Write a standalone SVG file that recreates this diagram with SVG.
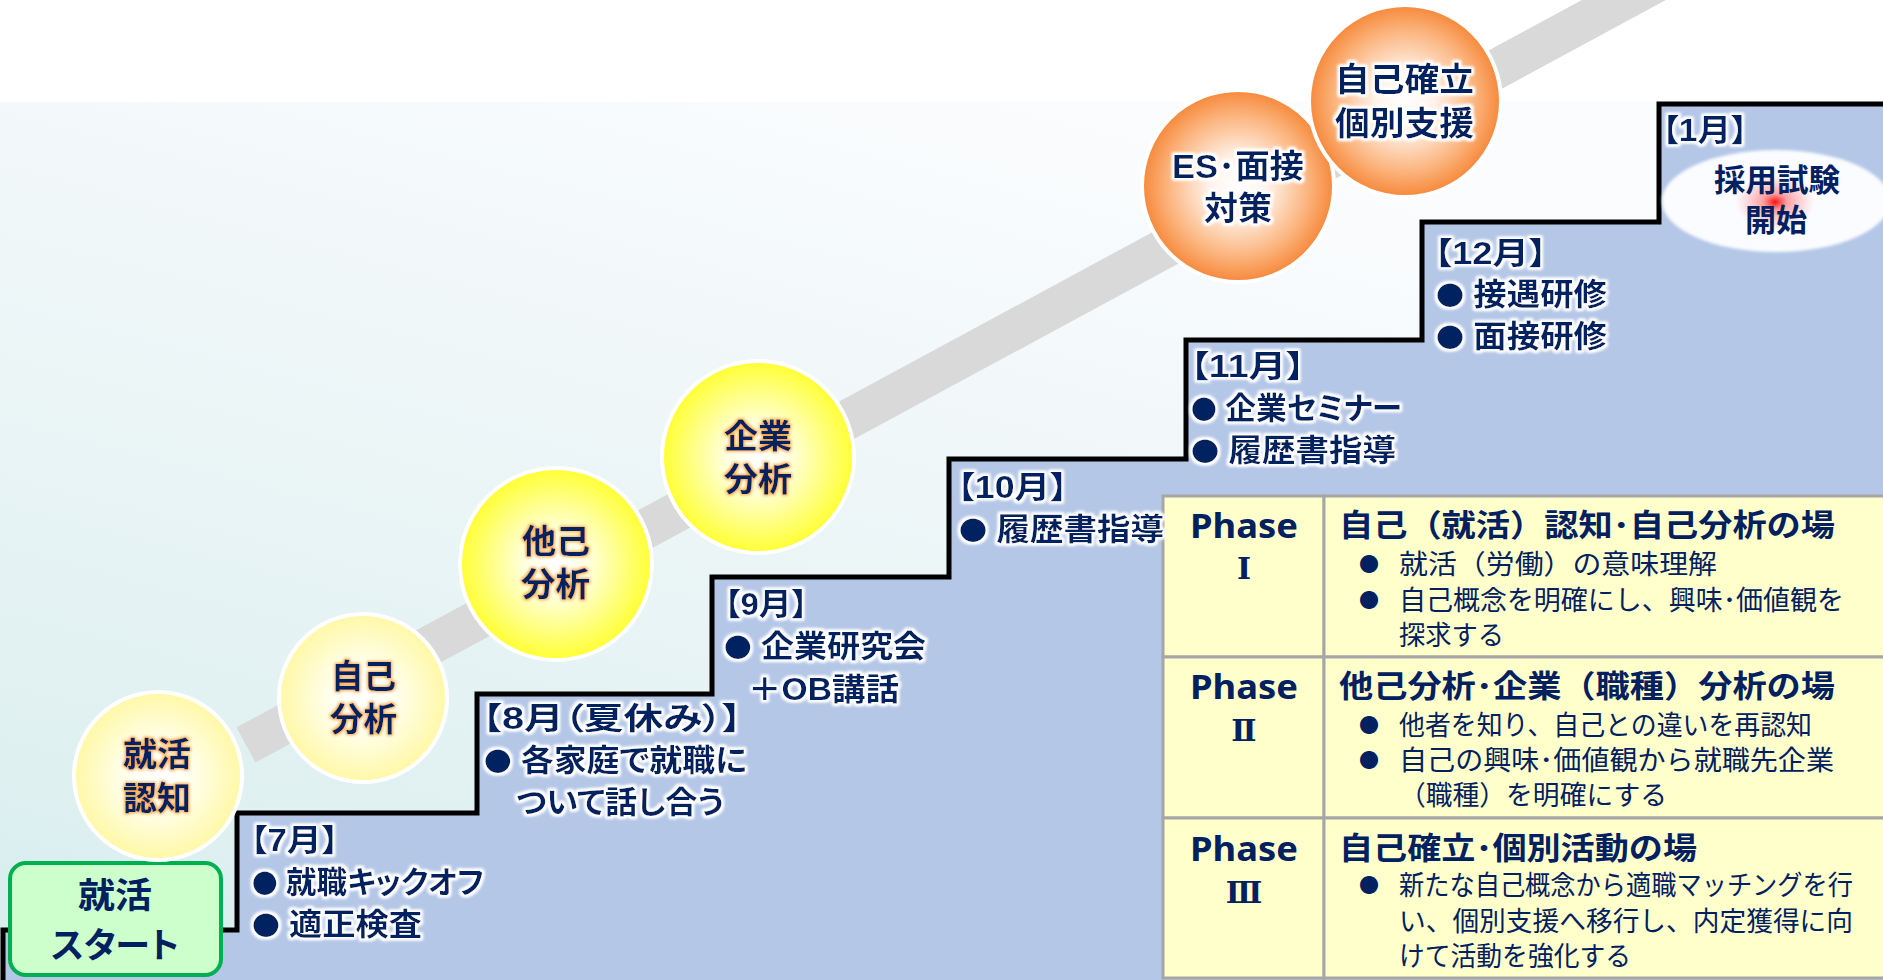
<svg xmlns="http://www.w3.org/2000/svg" width="1883" height="980" viewBox="0 0 1883 980">
<defs>
  <linearGradient id="bg" x1="0.55" y1="0" x2="0" y2="1">
    <stop offset="0" stop-color="#fbfcfe"/>
    <stop offset="1" stop-color="#d8eded"/>
  </linearGradient>
  <radialGradient id="ylPale" cx="0.5" cy="0.5" r="0.5">
    <stop offset="0" stop-color="#ffffff"/>
    <stop offset="0.35" stop-color="#fffff2"/>
    <stop offset="1" stop-color="#fff8a6"/>
  </radialGradient>
  <radialGradient id="ylBright" cx="0.5" cy="0.5" r="0.5">
    <stop offset="0" stop-color="#ffffff"/>
    <stop offset="0.3" stop-color="#ffffe6"/>
    <stop offset="1" stop-color="#ffff33"/>
  </radialGradient>
  <radialGradient id="orng" cx="0.5" cy="0.5" r="0.5">
    <stop offset="0" stop-color="#ffffff"/>
    <stop offset="0.3" stop-color="#fff3ea"/>
    <stop offset="0.75" stop-color="#fbb27a"/>
    <stop offset="1" stop-color="#f6883a"/>
  </radialGradient>
  <radialGradient id="redGlow" cx="0.5" cy="0.5" r="0.5">
    <stop offset="0" stop-color="#ff0000" stop-opacity="0.95"/>
    <stop offset="0.3" stop-color="#ff3030" stop-opacity="0.45"/>
    <stop offset="1" stop-color="#ff6060" stop-opacity="0"/>
  </radialGradient>
  <filter id="glowW" x="-20%" y="-40%" width="140%" height="180%">
    <feMorphology in="SourceAlpha" operator="dilate" radius="1.5" result="d"/>
    <feGaussianBlur in="d" stdDeviation="1.8" result="b"/>
    <feFlood flood-color="#ffffff"/>
    <feComposite in2="b" operator="in" result="g"/>
    <feMerge><feMergeNode in="g"/><feMergeNode in="g"/><feMergeNode in="SourceGraphic"/></feMerge>
  </filter>
  <filter id="glowO" x="-20%" y="-40%" width="140%" height="180%">
    <feMorphology in="SourceAlpha" operator="dilate" radius="1.2" result="d"/>
    <feGaussianBlur in="d" stdDeviation="1.8" result="b"/>
    <feFlood flood-color="#f7a648"/>
    <feComposite in2="b" operator="in" result="g"/>
    <feMerge><feMergeNode in="g"/><feMergeNode in="SourceGraphic"/></feMerge>
  </filter>
  <filter id="soft" x="-5%" y="-10%" width="110%" height="120%">
    <feGaussianBlur stdDeviation="1.5"/>
  </filter>
</defs>
<style>
  .t { font-family: "Liberation Sans", "Noto Sans CJK JP", sans-serif; font-weight: 700; fill: #002060; font-feature-settings: "palt"; }
  .m { font-size: 31px; }
  .b { font-size: 33px; }
  .hd { font-size: 31px; font-feature-settings: normal; }
  .bd { font-size: 27px; font-weight: 400; font-feature-settings: normal; }
  .dot { font-family: "Noto Sans CJK JP", sans-serif; font-size: 26px; }
  .bl { font-family: "Noto Sans CJK JP", sans-serif; font-size: 20px; font-weight: 400; fill: #002060; }
  .ph { font-family: "Noto Sans", "Liberation Sans", sans-serif; font-size: 34px; font-weight: 700; fill: #002060; }
  .rn { font-family: "DejaVu Serif", "Noto Sans CJK JP", serif; font-size: 30px; font-weight: 700; fill: #002060; }
  .cell { fill: #ffffcc; stroke: #a6a6a6; stroke-width: 3; }
  .bub { stroke: #ffffff; stroke-width: 4; }
</style>

<g id="background">
  <rect x="0" y="0" width="1883" height="980" fill="#ffffff"/>
  <rect x="0" y="102" width="1883" height="878" fill="url(#bg)"/>
</g>

<g id="connectors">
  <line x1="246" y1="745" x2="1720" y2="-52" stroke="#d9d9d9" stroke-width="40" stroke-linecap="butt"/>
</g>

<g id="staircase">
  <path d="M3,980 V930 H237 V813 H477 V694 H712 V577 H949 V459 H1186 V340 H1422 V222 H1659 V104 H1883 V980 Z" fill="#b4c7e7"/>
  <path d="M3,980 V930 H237 V813 H477 V694 H712 V577 H949 V459 H1186 V340 H1422 V222 H1659 V104 H1883" fill="none" stroke="#000000" stroke-width="5" stroke-linejoin="miter"/>
</g>

<g id="phase-table">
  <rect class="cell" x="1163" y="496" width="161" height="161"/>
  <rect class="cell" x="1324" y="496" width="562" height="161"/>
  <rect class="cell" x="1163" y="657" width="161" height="161"/>
  <rect class="cell" x="1324" y="657" width="562" height="161"/>
  <rect class="cell" x="1163" y="818" width="161" height="160"/>
  <rect class="cell" x="1324" y="818" width="562" height="160"/>
  <g id="phase1">
    <text class="ph" x="1190" y="538" textLength="108" lengthAdjust="spacingAndGlyphs">Phase</text>
    <text class="rn" x="1244" y="579" text-anchor="middle">Ⅰ</text>
    <text class="t hd" x="1339" y="536" textLength="496" lengthAdjust="spacingAndGlyphs">自己（就活）認知･自己分析の場</text>
    <text class="bl" x="1359" y="572">●</text>
    <text class="t bd" x="1399" y="574" textLength="318" lengthAdjust="spacingAndGlyphs">就活（労働）の意味理解</text>
    <text class="bl" x="1359" y="608">●</text>
    <text class="t bd" x="1399" y="610" textLength="445" lengthAdjust="spacingAndGlyphs">自己概念を明確にし、興味･価値観を</text>
    <text class="t bd" x="1399" y="645" textLength="105" lengthAdjust="spacingAndGlyphs">探求する</text>
  </g>
  <g id="phase2">
    <text class="ph" x="1190" y="699" textLength="108" lengthAdjust="spacingAndGlyphs">Phase</text>
    <text class="rn" x="1244" y="741" text-anchor="middle">Ⅱ</text>
    <text class="t hd" x="1339" y="697" textLength="496" lengthAdjust="spacingAndGlyphs">他己分析･企業（職種）分析の場</text>
    <text class="bl" x="1359" y="733">●</text>
    <text class="t bd" x="1399" y="735" textLength="413" lengthAdjust="spacingAndGlyphs">他者を知り、自己との違いを再認知</text>
    <text class="bl" x="1359" y="768">●</text>
    <text class="t bd" x="1399" y="770" textLength="435" lengthAdjust="spacingAndGlyphs">自己の興味･価値観から就職先企業</text>
    <text class="t bd" x="1399" y="805" textLength="268" lengthAdjust="spacingAndGlyphs">（職種）を明確にする</text>
  </g>
  <g id="phase3">
    <text class="ph" x="1190" y="861" textLength="108" lengthAdjust="spacingAndGlyphs">Phase</text>
    <text class="rn" x="1244" y="903" text-anchor="middle">Ⅲ</text>
    <text class="t hd" x="1339" y="859" textLength="358" lengthAdjust="spacingAndGlyphs">自己確立･個別活動の場</text>
    <text class="bl" x="1359" y="893">●</text>
    <text class="t bd" x="1399" y="895" textLength="454" lengthAdjust="spacingAndGlyphs">新たな自己概念から適職マッチングを行</text>
    <text class="t bd" x="1399" y="931" textLength="454" lengthAdjust="spacingAndGlyphs">い、個別支援へ移行し、内定獲得に向</text>
    <text class="t bd" x="1399" y="966" textLength="232" lengthAdjust="spacingAndGlyphs">けて活動を強化する</text>
  </g>
</g>

<g id="start">
  <rect x="10" y="863" width="211" height="112" rx="16" ry="16" fill="#ccffcc" stroke="#00b050" stroke-width="4"/>
  <text class="t" font-size="35" x="78" y="908" textLength="74" lengthAdjust="spacingAndGlyphs">就活</text>
  <text class="t" font-size="35" x="51" y="958" textLength="128" lengthAdjust="spacingAndGlyphs">スタート</text>
</g>

<g id="bubble-shukatsu-ninchi">
  <circle class="bub" cx="158" cy="776" r="84" fill="url(#ylPale)"/>
  <g filter="url(#glowO)">
    <text class="t b" x="123" y="766" textLength="68" lengthAdjust="spacingAndGlyphs">就活</text>
    <text class="t b" x="123" y="810" textLength="68" lengthAdjust="spacingAndGlyphs">認知</text>
  </g>
</g>
<g id="bubble-jiko-bunseki">
  <circle class="bub" cx="363" cy="698" r="84" fill="url(#ylPale)"/>
  <g filter="url(#glowO)">
    <text class="t b" x="331" y="688" textLength="65" lengthAdjust="spacingAndGlyphs">自己</text>
    <text class="t b" x="330" y="731" textLength="67" lengthAdjust="spacingAndGlyphs">分析</text>
  </g>
</g>
<g id="bubble-tako-bunseki">
  <circle class="bub" cx="556" cy="564" r="96" fill="url(#ylBright)"/>
  <g filter="url(#glowO)">
    <text class="t b" x="522" y="553" textLength="68" lengthAdjust="spacingAndGlyphs">他己</text>
    <text class="t b" x="521" y="596" textLength="69" lengthAdjust="spacingAndGlyphs">分析</text>
  </g>
</g>
<g id="bubble-kigyo-bunseki">
  <circle class="bub" cx="758" cy="457" r="96" fill="url(#ylBright)"/>
  <g filter="url(#glowO)">
    <text class="t b" x="724" y="448" textLength="68" lengthAdjust="spacingAndGlyphs">企業</text>
    <text class="t b" x="724" y="491" textLength="68" lengthAdjust="spacingAndGlyphs">分析</text>
  </g>
</g>
<g id="bubble-es-mensetsu">
  <circle class="bub" cx="1238" cy="186" r="96" fill="url(#orng)"/>
  <g filter="url(#glowW)">
    <text class="t b" x="1172" y="178" textLength="132" lengthAdjust="spacingAndGlyphs">ES･面接</text>
    <text class="t b" x="1204" y="220" textLength="68" lengthAdjust="spacingAndGlyphs">対策</text>
  </g>
</g>
<g id="bubble-jiko-kakuritsu">
  <circle class="bub" cx="1405" cy="101" r="96" fill="url(#orng)"/>
  <g filter="url(#glowW)">
    <text class="t b" x="1335" y="91" textLength="139" lengthAdjust="spacingAndGlyphs">自己確立</text>
    <text class="t b" x="1335" y="135" textLength="139" lengthAdjust="spacingAndGlyphs">個別支援</text>
  </g>
</g>

<g id="step-jul" filter="url(#glowW)">
  <text class="t m" x="250" y="851" textLength="89" lengthAdjust="spacingAndGlyphs">【7月】</text>
  <text class="t m" x="252" y="893" textLength="232" lengthAdjust="spacingAndGlyphs"><tspan class="dot">●</tspan> 就職キックオフ</text>
  <text class="t m" x="252" y="935" textLength="170" lengthAdjust="spacingAndGlyphs"><tspan class="dot">●</tspan> 適正検査</text>
</g>
<g id="step-aug" filter="url(#glowW)">
  <text class="t m" x="482" y="729" textLength="260" lengthAdjust="spacingAndGlyphs">【8月（夏休み）】</text>
  <text class="t m" x="484" y="771" textLength="263" lengthAdjust="spacingAndGlyphs"><tspan class="dot">●</tspan> 各家庭で就職に</text>
  <text class="t m" x="516" y="813" textLength="208" lengthAdjust="spacingAndGlyphs">ついて話し合う</text>
</g>
<g id="step-sep" filter="url(#glowW)">
  <text class="t m" x="724" y="615" textLength="84" lengthAdjust="spacingAndGlyphs">【9月】</text>
  <text class="t m" x="724" y="657" textLength="202" lengthAdjust="spacingAndGlyphs"><tspan class="dot">●</tspan> 企業研究会</text>
  <text class="t m" x="748" y="700" textLength="151" lengthAdjust="spacingAndGlyphs">＋OB講話</text>
</g>
<g id="step-oct" filter="url(#glowW)">
  <text class="t m" x="957" y="498" textLength="111" lengthAdjust="spacingAndGlyphs">【10月】</text>
  <text class="t m" x="959" y="540" textLength="205" lengthAdjust="spacingAndGlyphs"><tspan class="dot">●</tspan> 履歴書指導</text>
</g>
<g id="step-nov" filter="url(#glowW)">
  <text class="t m" x="1190" y="377" textLength="115" lengthAdjust="spacingAndGlyphs">【11月】</text>
  <text class="t m" x="1191" y="419" textLength="211" lengthAdjust="spacingAndGlyphs"><tspan class="dot">●</tspan> 企業セミナー</text>
  <text class="t m" x="1191" y="461" textLength="205" lengthAdjust="spacingAndGlyphs"><tspan class="dot">●</tspan> 履歴書指導</text>
</g>
<g id="step-dec" filter="url(#glowW)">
  <text class="t m" x="1434" y="264" textLength="113" lengthAdjust="spacingAndGlyphs">【12月】</text>
  <text class="t m" x="1436" y="305" textLength="171" lengthAdjust="spacingAndGlyphs"><tspan class="dot">●</tspan> 接遇研修</text>
  <text class="t m" x="1436" y="347" textLength="171" lengthAdjust="spacingAndGlyphs"><tspan class="dot">●</tspan> 面接研修</text>
</g>
<g id="step-jan">
  <g filter="url(#glowW)">
    <text class="t m" x="1662" y="141" textLength="86" lengthAdjust="spacingAndGlyphs">【1月】</text>
  </g>
  <ellipse cx="1776" cy="201" rx="114" ry="51" fill="#fbfcff" filter="url(#soft)"/>
  <ellipse cx="1775" cy="202" rx="40" ry="28" fill="url(#redGlow)"/>
  <text class="t" font-size="31" x="1714" y="191" textLength="126" lengthAdjust="spacingAndGlyphs">採用試験</text>
  <text class="t" font-size="31" x="1745" y="231" textLength="62" lengthAdjust="spacingAndGlyphs">開始</text>
</g>
</svg>
